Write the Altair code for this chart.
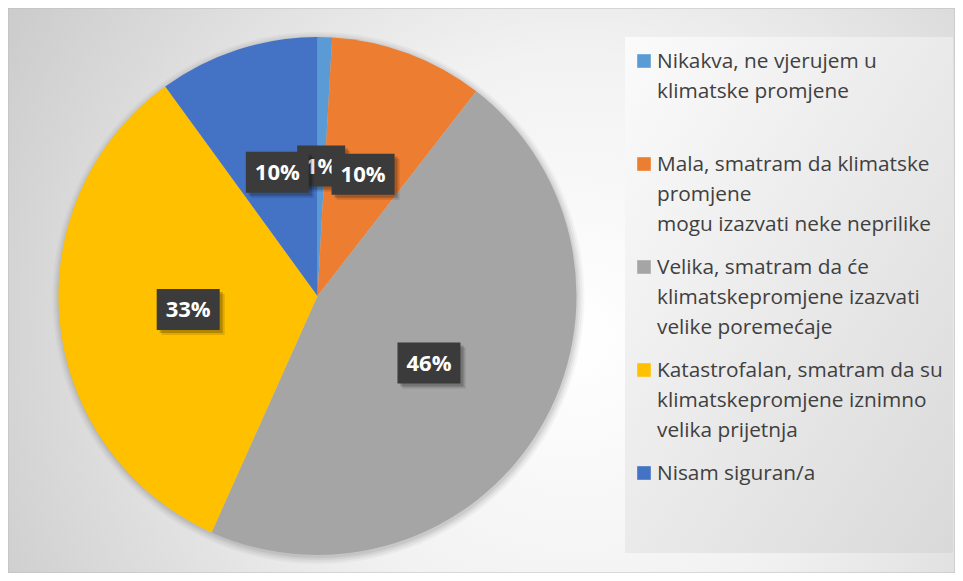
import altair as alt
import pandas as pd

# ---------------- data ----------------
categories = [
    "Nikakva, ne vjerujem u klimatske promjene",
    "Mala, smatram da klimatske promjene mogu izazvati neke neprilike",
    "Velika, smatram da će klimatskepromjene izazvati velike poremećaje",
    "Katastrofalan, smatram da su klimatskepromjene iznimno velika prijetnja",
    "Nisam siguran/a",
]
legend_texts = [
    "Nikakva, ne vjerujem u\nklimatske promjene",
    "Mala, smatram da klimatske\npromjene\nmogu izazvati neke neprilike",
    "Velika, smatram da će\nklimatskepromjene izazvati\nvelike poremećaje",
    "Katastrofalan, smatram da su\nklimatskepromjene iznimno\nvelika prijetnja",
    "Nisam siguran/a",
]
values = [0.9, 9.6, 46.2, 33.3, 10.0]
labels = ["1%", "10%", "46%", "33%", "10%"]
colors = ["#5B9BD5", "#ED7D31", "#A5A5A5", "#FFC000", "#4472C4"]

df = pd.DataFrame({
    "category": categories,
    "legend_text": legend_texts,
    "value": values,
    "label": labels,
    "order": list(range(len(categories))),
})

# ---------------- layout ----------------
W, H = 947, 565
CX, CY, R = 309.5, 288, 259
LR = 130  # label radius
BOX_H = 41

color_scale = alt.Scale(domain=categories, range=colors)
one = pd.DataFrame({"a": [0]})

bg_grad = {
    "gradient": "radial",
    "x1": 0.6, "y1": 0.55, "x2": 0.6, "y2": 0.55, "r1": 0, "r2": 0.85,
    "stops": [
        {"offset": 0, "color": "#ffffff"},
        {"offset": 0.35, "color": "#f2f2f2"},
        {"offset": 1, "color": "#bcbcbc"},
    ],
}
background = alt.Chart(one).mark_rect(fill=bg_grad, stroke="#bdbdbd", strokeWidth=1).encode(
    x=alt.value(0), x2=alt.value(W), y=alt.value(0), y2=alt.value(H)
)

panel_grad = {
    "gradient": "linear", "x1": 0, "y1": 0, "x2": 1, "y2": 1,
    "stops": [
        {"offset": 0, "color": "#fbfbfb"},
        {"offset": 1, "color": "#d9d9d9"},
    ],
}
legend_panel = alt.Chart(one).mark_rect(fill=panel_grad).encode(
    x=alt.value(617), x2=alt.value(945), y=alt.value(29), y2=alt.value(545)
)

# soft shadow around the pie
shadows = [
    alt.Chart(one).mark_arc(radius=R + rr, theta=0, theta2=6.2832, fill="#000000", opacity=op).encode(
        x=alt.value(CX + 1), y=alt.value(CY + 2)
    )
    for rr, op in [(7, 0.03), (5, 0.04), (3, 0.05), (1, 0.06)]
]

pie = alt.Chart(df).mark_arc(radius=R).encode(
    theta=alt.Theta("value:Q", stack=True),
    color=alt.Color("category:N", scale=color_scale, legend=None),
    order=alt.Order("order:Q"),
    x=alt.value(CX),
    y=alt.value(CY),
)


def label_base():
    return (
        alt.Chart(df)
        .transform_joinaggregate(total="sum(value)")
        .transform_window(cum="sum(value)", sort=[alt.SortField("order")], frame=[None, 0])
        .transform_calculate(mid="(datum.cum - datum.value/2) / datum.total * 2 * PI")
        .transform_calculate(
            cx=f"{CX} + {LR} * sin(datum.mid)",
            cy=f"{CY} - {LR} * cos(datum.mid)",
            hw="(18 + 15 * length(datum.label)) / 2",
        )
        .transform_calculate(
            bx1="datum.cx - datum.hw",
            bx2="datum.cx + datum.hw",
            by1=f"datum.cy - {BOX_H / 2}",
            by2=f"datum.cy + {BOX_H / 2}",
        )
    )


def label_layers(filter_expr):
    base = label_base().transform_filter(filter_expr)
    sh = []
    for off, op in [(5, 0.12), (3, 0.2)]:
        sh.append(
            base.transform_calculate(
                sx1=f"datum.bx1 + {off}", sx2=f"datum.bx2 + {off}",
                sy1=f"datum.by1 + {off}", sy2=f"datum.by2 + {off}",
            ).mark_rect(fill="#000000", opacity=op).encode(
                x=alt.X("sx1:Q", scale=None), x2="sx2:Q",
                y=alt.Y("sy1:Q", scale=None), y2="sy2:Q",
            )
        )
    box = base.mark_rect(fill="#3b3b3b").encode(
        x=alt.X("bx1:Q", scale=None), x2="bx2:Q",
        y=alt.Y("by1:Q", scale=None), y2="by2:Q",
    )
    txt = base.mark_text(
        font="Open Sans", fontWeight="bold", fontSize=22, color="white",
        align="center", baseline="middle", dy=1,
    ).encode(
        x=alt.X("cx:Q", scale=None), y=alt.Y("cy:Q", scale=None), text="label:N"
    )
    return sh + [box, txt]


small_labels = label_layers("datum.order == 0")
other_labels = label_layers("datum.order != 0")

leg_y = alt.Y("category:N", sort=categories,
              scale=alt.Scale(type="point", range=[53, 465], padding=0), axis=None)

legend_sq = alt.Chart(df).mark_square(size=185, opacity=1).encode(
    x=alt.value(636),
    y=leg_y,
    color=alt.Color("category:N", scale=color_scale, legend=None),
)
legend_txt = alt.Chart(df).mark_text(
    align="left", baseline="alphabetic", dy=7, lineBreak="\n", lineHeight=30,
    font="Open Sans", fontSize=20.8, color="#404040",
).encode(x=alt.value(649), y=leg_y, text="legend_text:N")

chart = (
    alt.layer(background, legend_panel, *shadows, pie, *small_labels, *other_labels, legend_sq, legend_txt)
    .resolve_scale(x="independent", y="independent")
    .properties(width=W, height=H, padding=0, autosize=alt.AutoSizeParams(type="none"))
    .configure_view(stroke=None)
)

chart.save("out.html", embed_options={"renderer": "svg", "actions": False})
